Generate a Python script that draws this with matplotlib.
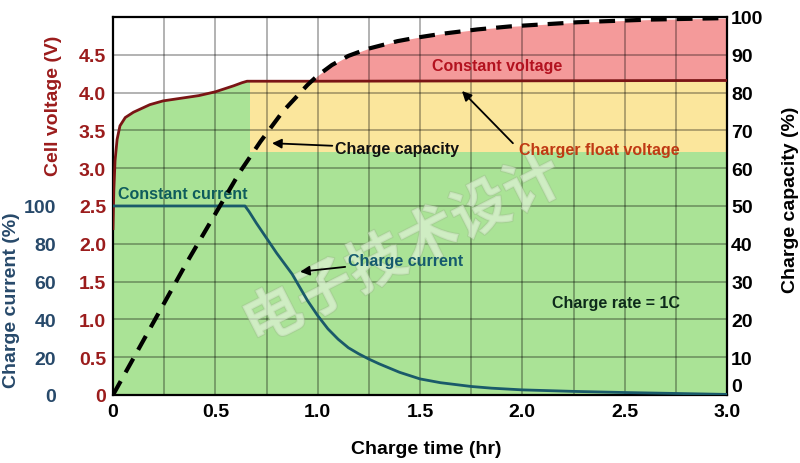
import matplotlib
matplotlib.use('Agg')
import matplotlib.pyplot as plt
import matplotlib.patheffects as pe
import numpy as np

# cell voltage (V) vs charge time (hr)
volt_t = [0, 0.004, 0.01, 0.02, 0.034, 0.06, 0.1, 0.18, 0.245, 0.42, 0.5, 0.59, 0.63, 0.655, 1.0, 3.0]
volt_v = [2.2, 2.7, 3.1, 3.38, 3.56, 3.67, 3.74, 3.84, 3.89, 3.96, 4.01, 4.09, 4.13, 4.15, 4.15, 4.16]

# charge current (%)
cur_t = [0, 0.645, 0.665, 0.7, 0.75, 0.8, 0.875, 0.95, 1.0, 1.05, 1.1, 1.15, 1.2, 1.25, 1.3,
         1.4, 1.5, 1.6, 1.75, 1.85, 2.0, 2.25, 2.5, 3.0]
cur_p = [100, 100, 97, 91, 83, 75, 64, 50, 42, 35, 29.5, 25, 21.8, 19, 16.5,
         12, 8.5, 6.5, 4.5, 3.6, 2.7, 1.9, 1.3, 0.3]

# charge capacity (%)
cap_t = [0, 0.36, 0.62, 0.72, 0.83, 0.95, 1.0, 1.07, 1.15, 1.24, 1.39, 1.48, 1.6, 1.78, 1.94,
         2.27, 2.62, 3.0]
cap_p = [0, 35, 59, 67, 75, 82, 84.5, 87.3, 89.7, 91.5, 93.6, 94.5, 95.5, 96.7, 97.5,
         98.6, 99.3, 99.7]

float_v = 4.15        # charger float voltage
cv_start = 0.67       # start of constant voltage stage (hr)
cv_low = 3.22         # lower edge of yellow band (V)

volt_ticks = [0, 0.5, 1.0, 1.5, 2.0, 2.5, 3.0, 3.5, 4.0, 4.5]
volt_labels = ['0', '0.5', '1.0', '1.5', '2.0', '2.5', '3.0', '3.5', '4.0', '4.5']
cur_ticks = [0, 20, 40, 60, 80, 100]
cap_ticks = [0, 10, 20, 30, 40, 50, 60, 70, 80, 90, 100]
time_ticks = [0, 0.5, 1.0, 1.5, 2.0, 2.5, 3.0]
time_labels = ['0', '0.5', '1.0', '1.5', '2.0', '2.5', '3.0']

plt.rcParams['font.family'] = ['Liberation Sans', 'DejaVu Sans']
plt.rcParams['font.weight'] = 'bold'

green = '#aae396'
yellow = '#fbe69c'
red = '#f49a9a'
vcol = '#9b1c1c'
ccol = '#27496a'

fig = plt.figure(figsize=(8, 4.64), dpi=100)
ax = fig.add_axes([0.14125, 0.1466, 0.7675, 0.8147])
ax.set_xlim(0, 3.0)
ax.set_ylim(0, 5.0)

# coloured regions
ax.fill_between(volt_t, 0, volt_v, color=green, lw=0, zorder=1)
ax.fill_between([cv_start, 3.0], cv_low, float_v, color=yellow, lw=0, zorder=1)
cap_v = np.array(cap_p) * 5.0 / 100
ax.fill_between(cap_t, float_v, cap_v, where=cap_v >= float_v, interpolate=True,
                color=red, lw=0, zorder=1)

# grid
ax.set_xticks(np.arange(0, 3.01, 0.25), minor=True)
ax.set_yticks(np.arange(0, 5.01, 0.5), minor=True)
ax.grid(which='both', color='black', alpha=0.3, lw=1.4, zorder=2)
ax.set_axisbelow(False)

ax.text(1.42, 1.9, '电子技术设计', rotation=27, fontsize=42, color='#e6f4de', alpha=0.4,
        ha='center', va='center', rotation_mode='anchor', family=['Noto Sans CJK SC'],
        path_effects=[pe.withStroke(linewidth=1.5, foreground='#9cbc8c')], zorder=3)

ax.plot(volt_t, volt_v, color='#7a1515', lw=2, zorder=4)

ax.set_xticks(time_ticks)
ax.set_xticklabels(time_labels)
ax.set_yticks(volt_ticks)
ax.set_yticklabels(volt_labels, color=vcol)
ax.tick_params(axis='both', which='both', length=0, labelsize=14)
ax.tick_params(axis='x', pad=6)
ax.tick_params(axis='y', pad=5)
for s in ax.spines.values():
    s.set_linewidth(1.6)
    s.set_color('black')
ax.set_xlabel('Charge time (hr)', fontsize=14, fontweight='bold')
ax.xaxis.set_label_coords(0.51, -0.118)
ax.set_ylabel('Cell voltage (V)', fontsize=14, fontweight='bold', color=vcol)
ax.yaxis.set_label_coords(-0.083, 0.767)

# charge current axis (left, outer)
ax_cur = ax.twinx()
ax_cur.set_ylim(0, 200)
ax_cur.yaxis.set_ticks_position('left')
ax_cur.yaxis.set_label_position('left')
ax_cur.set_yticks(cur_ticks)
ax_cur.set_yticklabels([str(v) for v in cur_ticks], color=ccol)
ax_cur.tick_params(axis='y', length=0, labelsize=14, pad=41)
for s in ax_cur.spines.values():
    s.set_visible(False)
ax_cur.plot(cur_t, cur_p, color='#1a5a6a', lw=2, zorder=4)
ax_cur.set_ylabel('Charge current (%)', fontsize=14, fontweight='bold', color=ccol)
ax_cur.yaxis.set_label_coords(-0.151, 0.254)

# charge capacity axis (right)
ax_cap = ax.twinx()
ax_cap.set_ylim(0, 100)
ax_cap.set_yticks(cap_ticks)
ax_cap.set_yticklabels([str(v) for v in cap_ticks])
ax_cap.tick_params(axis='y', length=0, labelsize=14, pad=3)
ax_cap.get_yticklabels()[0].set_va('bottom')
for s in ax_cap.spines.values():
    s.set_visible(False)
ax_cap.plot(cap_t, cap_p, color='black', lw=3, dashes=(3.8, 2.4), zorder=5)
ax_cap.set_ylabel('Charge capacity (%)', fontsize=14, fontweight='bold', rotation=90)
ax_cap.yaxis.set_label_coords(1.0896, 0.518)

# annotations
arrow = dict(arrowstyle='-|>', color='black', lw=1.3, mutation_scale=14, shrinkA=0, shrinkB=0)
ax.text(0.024, 2.67, 'Constant current', color='#0e5c5c', fontsize=11.5, va='center', zorder=6)
ax.text(1.558, 4.36, 'Constant voltage', color='#b3121f', fontsize=11.5, va='center', zorder=6)
ax.text(2.145, 1.22, 'Charge rate = 1C', color='#0d2a1a', fontsize=11.5, va='center', zorder=6)
ax.annotate('Charge current', xy=(0.914, 1.63), xytext=(1.148, 1.78), color='#155a6e',
            fontsize=11.5, va='center', arrowprops=arrow, zorder=6)
ax.annotate('Charge capacity', xy=(0.777, 3.33), xytext=(1.085, 3.26), color='#111111',
            fontsize=11.5, va='center', arrowprops=arrow, zorder=6)
ax.annotate('', xy=(1.705, 4.02), xytext=(1.954, 3.33), arrowprops=arrow, zorder=6)
ax.text(1.983, 3.25, 'Charger float voltage', color='#bf3a14', fontsize=11.5, va='center', zorder=6)

fig.savefig('out.png', dpi=100)
